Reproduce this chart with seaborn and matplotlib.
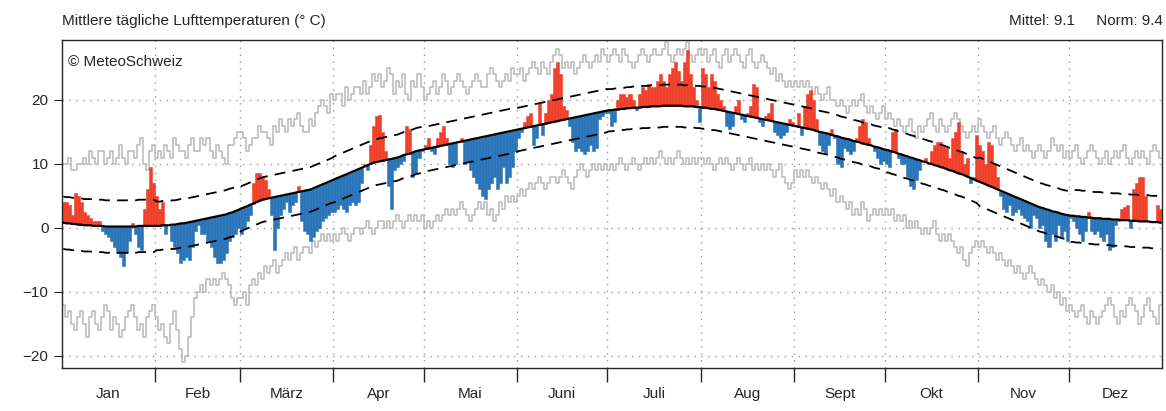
import numpy as np
import matplotlib
matplotlib.use("Agg")
import matplotlib.pyplot as plt
import seaborn as sns

months = ['Jan', 'Feb', 'März', 'Apr', 'Mai', 'Juni', 'Juli', 'Aug', 'Sept', 'Okt', 'Nov', 'Dez']
month_len = [31, 28, 31, 30, 31, 30, 31, 31, 30, 31, 30, 31]

# daily mean temperature
temp_txt = [
    "4 4 3.5 2 5.5 5 4 2.5 2 1.5 1 1 1 -0.5 -1 -1.5 -2 -3 -4 -4.5 -6 -4 -2 0.8 -1 -3 -3.5 3 6 9.5 7",
    "5 3 4 -1 0.5 -2 -3 -4 -5.5 -5 -4.5 -5 -3 -0.5 0.5 -1 -1 -2 -3 -4.5 -5.5 -5.5 -5 -4 -2 -1.5 -1 0",
    "-1 0 1 2 7 8.5 8.5 8 7.5 6 2 -3.5 0 2 3 4 2.5 3.5 4 6.5 1 -0.5 -1 -2 -1.5 -0.5 0 1 1.5 2 2.5",
    "2.5 3 3.5 3 2.5 3.5 4 3.5 4 7 10 9 13 16 17.5 17.7 15 12 6.5 3 9 9.5 10 10.5 16 15.5 8 8.5 11 12",
    "13 14 12 11.5 14 15 16 14 10 9.5 10 13.5 14 10 10.5 9 8 7 6 5 4.5 6 7 8 6 7 9.5 7 8 9.5 12",
    "14 15 16.5 17.5 18 13 14 19.5 14.5 18 20 21 25 26 24 19 18.5 16 13.5 12 12.5 12 11.5 12 13 12 12.5 17 17.5 18",
    "18 16 16.5 20 21 21 20.5 21 20 18.5 21 22 21.5 22.5 22 22 23 24 23 22 24 25 26 24.5 23 26 27.8 24 22 20 16.5",
    "25 24 22 24 23 21 20 19 16 15.5 16 19 20 17 16.5 18 19 22.5 22 16.5 16 17.5 18 19.5 15 14.5 14 14.5 15 17 16.5",
    "16 18 14.5 19 21 21.5 20 17 13 12 11.5 13 15.5 14 10 9.5 12.5 12 11.5 12 14 16 17 16.5 14 13 12 11 10 10.5",
    "10 9.5 15 15.5 11 10 10 8 6.5 6 7.5 9 10.5 11 10 12 13 13.5 13.5 13 12.5 11 14 15 16.5 12 10 11 7 8 14.5",
    "13 12 10 13.5 13 10 8 5 3 2.5 3.5 2 2.5 3 2 1.5 1 0 2 1.5 0 0.5 -2 -3 -1 -2 0.5 -1.5 -0.5 -2",
    "1.5 1 0 -1 -2 -0.5 2.5 -0.5 -1 -0.5 -1.5 -2 -1 -3.5 -3 0.5 1 3 3.3 3.5 0 6 7 8 8 5 1 1 1 3.5 3",
]

# norm per day
norm_txt = [
    "0.8 0.7 0.7 0.6 0.6 0.5 0.5 0.4 0.4 0.4 0.3 0.3 0.3 0.3 0.2 0.2 0.2 0.2 0.2 0.2 0.2 0.2 0.2 0.2 0.2 0.3 0.3 0.3 0.3 0.3 0.3",
    "0.3 0.3 0.4 0.4 0.4 0.5 0.5 0.6 0.7 0.7 0.8 0.9 1.0 1.1 1.2 1.3 1.4 1.5 1.6 1.7 1.8 1.9 2.0 2.1 2.3 2.4 2.6 2.8",
    "3.0 3.2 3.4 3.6 3.8 4.0 4.2 4.4 4.5 4.6 4.7 4.8 4.9 5.0 5.1 5.2 5.3 5.4 5.5 5.6 5.7 5.8 5.9 6.0 6.2 6.4 6.6 6.8 7.0 7.2 7.4",
    "7.6 7.8 8.0 8.2 8.4 8.6 8.8 9.0 9.2 9.4 9.6 9.8 10.0 10.2 10.3 10.4 10.5 10.6 10.7 10.8 10.9 11.0 11.2 11.4 11.5 11.6 11.8 12.0 12.1 12.2",
    "12.3 12.4 12.5 12.6 12.7 12.8 12.9 13.0 13.1 13.2 13.3 13.4 13.5 13.6 13.7 13.8 13.9 14.0 14.1 14.2 14.3 14.4 14.5 14.6 14.7 14.8 14.9 15.0 15.1 15.2 15.3",
    "15.4 15.5 15.6 15.7 15.8 15.9 16.0 16.1 16.2 16.3 16.4 16.5 16.6 16.7 16.8 16.9 17.0 17.1 17.2 17.3 17.4 17.5 17.6 17.7 17.8 17.9 18.0 18.1 18.2 18.3",
    "18.4 18.4 18.5 18.5 18.6 18.6 18.7 18.7 18.8 18.8 18.8 18.9 18.9 18.9 19.0 19.0 19.0 19.0 19.1 19.1 19.1 19.1 19.1 19.1 19.1 19.0 19.0 19.0 19.0 18.9 18.9",
    "18.8 18.8 18.7 18.6 18.6 18.5 18.4 18.3 18.2 18.1 18.0 17.9 17.8 17.7 17.6 17.5 17.4 17.3 17.2 17.1 17.0 16.9 16.8 16.7 16.6 16.5 16.4 16.3 16.2 16.1 16.0",
    "15.9 15.8 15.7 15.6 15.5 15.4 15.3 15.1 15.0 14.9 14.8 14.7 14.5 14.4 14.3 14.1 14.0 13.9 13.8 13.6 13.5 13.4 13.2 13.1 13.0 12.9 12.7 12.6 12.5 12.3",
    "12.2 12.1 11.9 11.8 11.6 11.5 11.3 11.2 11.0 10.9 10.7 10.6 10.4 10.3 10.1 10.0 9.8 9.7 9.5 9.4 9.2 9.0 8.9 8.7 8.5 8.4 8.2 8.0 7.8 7.6 7.4",
    "7.2 7.0 6.8 6.6 6.4 6.2 6.0 5.8 5.6 5.4 5.2 5.0 4.8 4.6 4.4 4.2 4.0 3.8 3.6 3.4 3.2 3.1 2.9 2.8 2.6 2.5 2.4 2.2 2.1 2.0",
    "1.9 1.9 1.8 1.8 1.7 1.7 1.6 1.6 1.5 1.5 1.5 1.4 1.4 1.4 1.3 1.3 1.3 1.2 1.2 1.2 1.1 1.1 1.1 1.0 1.0 1.0 1.0 0.9 0.9 0.9 0.8",
]

# standard deviation per month (dashed band)
sd_month = [4.1, 3.8, 3.5, 3.6, 3.5, 3.4, 3.3, 3.3, 3.3, 3.5, 3.8, 4.1]

# record max / min per day
max_txt = [
    "10 10 11 9 9 10 10 11 10 12 11 10 12 12 10 11 12 10 11 13 11 10 12 12 11 13 14 10 9 12 13",
    "11 12 11 13 12 11 14 13 12 12 11 13 14 12 12 14 13 14 12 11 13 12 11 10 13 13 14 15",
    "15 14 12 13 14 14 16 15 15 14 13 16 15 17 16 15 17 16 17 18 16 15 15 17 16 18 19 20 19 18 21",
    "20 21 21 19 22 20 21 22 22 21 23 21 22 24 23 24 22 23 25 24 21 23 22 24 21 20 23 22 24 22",
    "20 21 22 23 21 22 24 23 21 22 23 24 23 22 21 22 23 24 23 22 22 24 25 24 23 22 23 24 23 25 24",
    "24 25 23 24 25 26 25 24 26 25 24 26 27 28 27 25 26 25 26 24 25 26 27 26 25 26 27 26 28 27",
    "26 27 28 27 26 28 27 26 25 26 27 28 27 26 27 28 27 27 28 29 27 26 27 28 27 28 29 27 26 27 28",
    "27 28 26 27 28 26 25 27 28 26 27 28 27 26 25 27 28 26 25 26 27 26 25 24 25 23 24 23 22 23 22",
    "23 22 23 22 23 22 21 22 21 20 21 22 20 20 19 20 19 18 19 20 19 20 21 19 18 19 18 17 18 19",
    "17 18 17 16 17 16 15 16 17 15 14 16 15 16 17 18 16 15 17 16 15 16 17 18 17 16 15 14 15 16 15",
    "17 16 15 14 15 16 14 13 14 15 14 13 12 13 14 12 13 12 11 12 13 12 11 12 14 13 12 13 11 12",
    "11 12 13 11 10 11 12 13 12 11 10 11 12 10 11 12 11 12 13 11 10 11 12 11 12 11 10 12 13 12 11",
]
min_txt = [
    "-12 -14 -13 -15 -16 -14 -13 -15 -17 -14 -13 -15 -16 -14 -12 -13 -16 -14 -15 -17 -16 -14 -13 -12 -14 -16 -15 -17 -14 -13 -12",
    "-14 -16 -15 -17 -18 -15 -13 -16 -19 -21 -20 -17 -14 -11 -10 -9 -10 -8 -9 -8 -9 -8 -7 -8 -9 -11 -12 -11",
    "-11 -10 -12 -9 -8 -9 -7 -8 -6 -7 -6 -5 -7 -6 -5 -4 -5 -4 -3 -5 -4 -3 -3 -4 -2 -3 -2 -1 -2 -1 -2",
    "-1 -2 -1 0 -1 -2 -1 0 0 -1 0 1 0 -1 0 1 1 0 1 0 1 2 1 0 1 2 1 2 1 2",
    "0 1 0 1 2 1 2 3 2 3 2 3 4 3 2 1 2 3 4 3 4 2 3 1 2 4 3 5 4 5 4",
    "5 6 5 6 7 6 7 8 7 6 7 8 8 7 8 9 8 7 6 8 9 10 9 8 9 10 9 10 9 10",
    "9 10 9 10 11 10 9 10 11 10 9 10 11 10 11 10 11 12 11 10 11 10 11 12 11 10 11 10 11 10 11",
    "11 10 11 10 9 10 11 10 11 10 9 10 11 10 9 10 11 9 10 9 10 9 10 9 8 9 10 8 7 6 7",
    "9 8 9 8 9 8 7 8 7 6 7 6 5 6 4 5 4 3 4 2 3 2 4 3 1 2 3 2 3 2",
    "3 2 3 1 2 1 2 0 1 0 1 0 -1 0 -1 0 1 -1 -2 -1 -2 -1 -2 -3 -4 -3 -5 -6 -4 -3 -2",
    "-3 -2 -3 -4 -3 -4 -5 -4 -5 -6 -5 -6 -7 -6 -7 -8 -7 -6 -7 -8 -9 -8 -9 -10 -9 -11 -10 -12 -11 -13",
    "-12 -13 -14 -13 -12 -14 -15 -13 -14 -15 -14 -13 -12 -11 -12 -14 -15 -13 -14 -12 -11 -12 -13 -15 -14 -12 -11 -13 -14 -15 -12",
]


def to_arr(lines):
    return np.array([float(v) for line in lines for v in line.split()])


temp = to_arr(temp_txt)
norm = to_arr(norm_txt)
tmax = to_arr(max_txt)
tmin = to_arr(min_txt)
sd = np.repeat(sd_month, month_len)
days = np.arange(len(norm))

sns.set_style("ticks")
plt.rcParams['font.family'] = ['Liberation Sans', 'DejaVu Sans']

fig, ax = plt.subplots(figsize=(11.66, 4.11), dpi=100)
fig.subplots_adjust(left=0.053, right=0.9966, top=0.903, bottom=0.105)

# grid
bounds = np.cumsum([0] + month_len) - 0.5
for b in bounds[1:-1]:
    ax.axvline(b, color='#999999', ls=(0, (1, 4)), lw=1, zorder=0)
for y in [-20, -10, 0, 10, 20]:
    ax.axhline(y, color='#999999', ls=(0, (1, 4)), lw=1, zorder=0)

# record lines
ax.step(days, tmax, where='mid', color='#bdbdbd', lw=1.2, zorder=1)
ax.step(days, tmin, where='mid', color='#bdbdbd', lw=1.2, zorder=1)

# anomaly bars
anom = temp - norm
colors = np.where(anom >= 0, '#f0402a', '#2a75b9')
ax.bar(days, anom, bottom=norm, width=1.0, color=colors, edgecolor=colors,
       linewidth=0.4, zorder=2)

sns.lineplot(x=days, y=norm, color='black', lw=1.6, ax=ax, zorder=3)
ax.plot(days, norm + sd, color='black', lw=1.3, ls=(0, (6, 4)), zorder=3)
ax.plot(days, norm - sd, color='black', lw=1.3, ls=(0, (6, 4)), zorder=3)

ax.set_xlim(-0.5, len(days) - 0.5)
ax.set_ylim(-21.9, 29.4)
ax.set_yticks([-20, -10, 0, 10, 20])
ax.set_xticks(bounds[1:-1])
ax.set_xticklabels([])
ax.set_xticks((bounds[:-1] + bounds[1:]) / 2, minor=True)
ax.set_xticklabels(months, minor=True)
ax.tick_params(axis='x', which='major', length=10, width=1)
ax.tick_params(axis='x', which='minor', length=0, pad=14, labelsize=11)
ax.tick_params(axis='y', length=6, labelsize=11)
for s in ax.spines.values():
    s.set_linewidth(1)

ax.text(0.006, 0.955, '© MeteoSchweiz', transform=ax.transAxes, fontsize=11, va='top')
fig.text(0.053, 0.95, 'Mittlere tägliche Lufttemperaturen (° C)', fontsize=11, va='center')
fig.text(0.997, 0.95, 'Mittel: 9.1     Norm: 9.4', fontsize=11, va='center', ha='right')

plt.savefig('out.png', dpi=100)
